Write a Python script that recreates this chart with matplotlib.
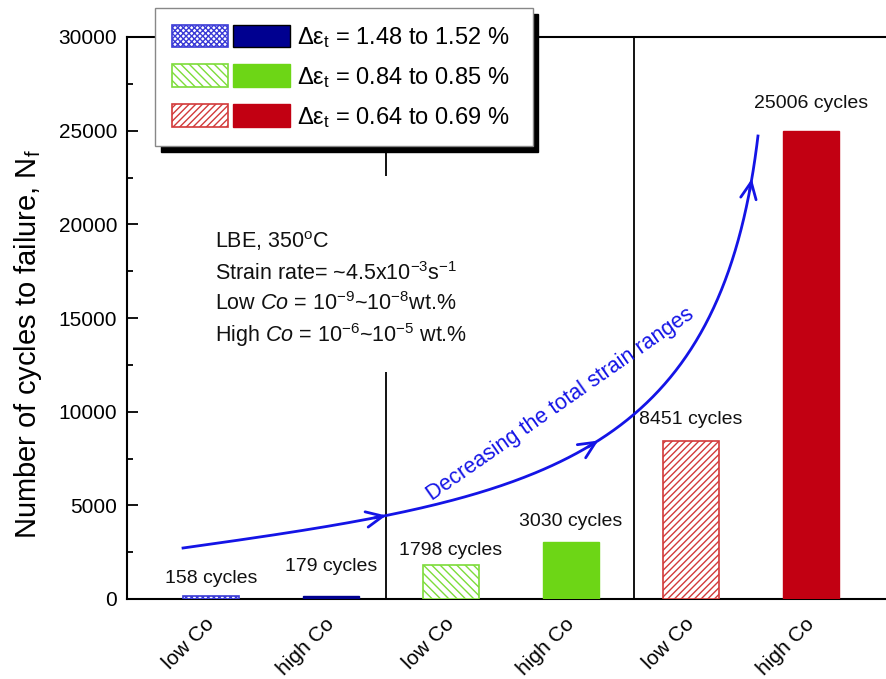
import numpy as np
import matplotlib
matplotlib.use("Agg")
import matplotlib.pyplot as plt
from matplotlib.legend_handler import HandlerTuple
from matplotlib.patches import Patch
from matplotlib.ticker import MultipleLocator
from matplotlib.transforms import ScaledTranslation

plt.rcParams['font.family'] = ['Liberation Sans', 'DejaVu Sans']
plt.rcParams['mathtext.fontset'] = 'custom'
plt.rcParams['mathtext.rm'] = 'Liberation Sans'
plt.rcParams['mathtext.it'] = 'Liberation Sans:italic'
plt.rcParams['hatch.linewidth'] = 1.0

# ---- data ----
categories = ["low Co", "high Co", "low Co", "high Co", "low Co", "high Co"]
cycles = [158, 179, 1798, 3030, 8451, 25006]
legend_labels = [r"Δε$_\mathrm{t}$ = 1.48 to 1.52 %  ",
                 r"Δε$_\mathrm{t}$ = 0.84 to 0.85 %  ",
                 r"Δε$_\mathrm{t}$ = 0.64 to 0.69 %  "]
solid_colors = ["#000090", "#6dd616", "#c20012"]
hatch_colors = ["#3b3bd6", "#7ddc3a", "#d23a3a"]
hatches = ["x" * 6, "\\" * 4, "/" * 5]
label_offsets_px = [18, 29, 15, 21, 21, 27]
dividers = [1.46, 3.525]
# Bezier control points of the decorative arrow (data units)
arrow_ctrl_x = [-0.233, 2.683, 4.233, 4.558]
arrow_ctrl_y = [2722, 5338, 7100, 24715]
chevron_t = [0.215, 0.52, 0.955]

fig = plt.figure(figsize=(8.87, 6.79), dpi=100)
ax = fig.add_axes([127 / 887, 80 / 679, 768 / 887, 562 / 679])
ax.set_xlim(-0.7, 5.7)
ax.set_ylim(0, 30000)

x = np.arange(len(cycles))
width = 0.46
for i, v in enumerate(cycles):
    g = i // 2
    if i % 2 == 0:
        ax.bar(x[i], v, width, facecolor="white", edgecolor=hatch_colors[g],
               hatch=hatches[g], linewidth=1.2, zorder=3)
    else:
        ax.bar(x[i], v, width, facecolor=solid_colors[g], edgecolor=solid_colors[g],
               linewidth=1.0, zorder=3)
    ax.annotate(f"{v} cycles", (x[i], v), xytext=(0, label_offsets_px[i]),
                textcoords="offset pixels", ha="center", va="center",
                fontsize=14, color="#111111")

# dividers
ax.vlines(dividers[0], 0, 12100, color="black", lw=1.3, zorder=2)
ax.vlines(dividers[0], 22600, 30000, color="black", lw=1.3, zorder=2)
ax.vlines(dividers[1], 0, 30000, color="black", lw=1.3, zorder=2)

# axes styling
for s in ["left", "top", "bottom"]:
    ax.spines[s].set_linewidth(1.5)
ax.spines["right"].set_visible(False)
ax.yaxis.set_major_locator(MultipleLocator(5000))
ax.yaxis.set_minor_locator(MultipleLocator(2500))
ax.tick_params(axis="y", which="major", direction="in", length=8, width=1.3,
               labelsize=15, pad=7)
ax.tick_params(axis="y", which="minor", direction="in", length=4, width=1.3)
ax.set_xticks(x)
ax.set_xticklabels(categories, rotation=45, ha="right", fontsize=15)
ax.tick_params(axis="x", length=0, pad=11)
for lab in ax.get_xticklabels():
    lab.set_transform(lab.get_transform() + ScaledTranslation(0.07, 0, fig.dpi_scale_trans))
ax.set_ylabel(r"Number of cycles to failure, N$_\mathrm{f}$", fontsize=21)
ax.yaxis.set_label_coords(-0.108, 0.454)

# info text
lines = [r"LBE, 350$^\mathrm{o}$C",
         r"Strain rate= ~4.5x10$^{-3}$s$^{-1}$",
         r"Low $Co$ = 10$^{-9}$~10$^{-8}$wt.%",
         r"High $Co$ = 10$^{-6}$~10$^{-5}$ wt.%"]
ys = [0.6246, 0.5676, 0.5142, 0.4573]
for t, yy in zip(lines, ys):
    ax.text(0.1146, yy, t, transform=ax.transAxes, fontsize=15.5, va="baseline",
            ha="left", color="#111111")

# decorative curved arrow (cubic Bezier, computed in display space)
C = ax.transData.transform(np.column_stack([arrow_ctrl_x, arrow_ctrl_y]))


def bez(t):
    t = np.atleast_1d(t)[:, None]
    return ((1 - t) ** 3 * C[0] + 3 * (1 - t) ** 2 * t * C[1]
            + 3 * (1 - t) * t ** 2 * C[2] + t ** 3 * C[3])


def bez_d(t):
    return (3 * (1 - t) ** 2 * (C[1] - C[0]) + 6 * (1 - t) * t * (C[2] - C[1])
            + 3 * t ** 2 * (C[3] - C[2]))


tt = np.linspace(0, 1, 300)
curve = ax.transData.inverted().transform(bez(tt))
blue = "#1414e6"
ax.plot(curve[:, 0], curve[:, 1], color=blue, lw=2.0, zorder=4)
inv = ax.transData.inverted()
for tc in chevron_t:
    tip = bez(tc)[0]
    d = bez_d(tc)
    d = d / np.hypot(*d)
    tail = tip - d * 12
    ax.annotate("", xy=inv.transform(tip), xytext=inv.transform(tail),
                arrowprops=dict(arrowstyle="->,head_length=0.6,head_width=0.28",
                                color=blue, lw=2.0, shrinkA=0, shrinkB=0,
                                mutation_scale=20), zorder=4)
ax.text(2.908, 10409, "Decreasing the total strain ranges", rotation=35,
        rotation_mode="anchor", ha="center", va="center", fontsize=15.5, color=blue)

# legend
handles = []
for g in range(3):
    h1 = Patch(facecolor="white", edgecolor=hatch_colors[g], hatch=hatches[g], linewidth=1.2)
    h2 = Patch(facecolor=solid_colors[g], edgecolor="black" if g == 0 else solid_colors[g],
               linewidth=1.0)
    handles.append((h1, h2))
leg = fig.legend(handles, legend_labels, handler_map={tuple: HandlerTuple(ndivide=None, pad=0.2)},
                 loc="upper left", bbox_to_anchor=(155 / 887, 1 - 8 / 679),
                 bbox_transform=fig.transFigure, borderaxespad=0, fontsize=17,
                 handlelength=5.0, handleheight=1.1, handletextpad=0.3,
                 labelspacing=0.62, borderpad=0.7, fancybox=False, framealpha=1,
                 edgecolor="#888888",
                 shadow={"ox": 4, "oy": -4, "color": "black", "alpha": 1})
leg.get_frame().set_linewidth(1.0)
leg.set_zorder(10)

fig.savefig("out.png", dpi=100)
